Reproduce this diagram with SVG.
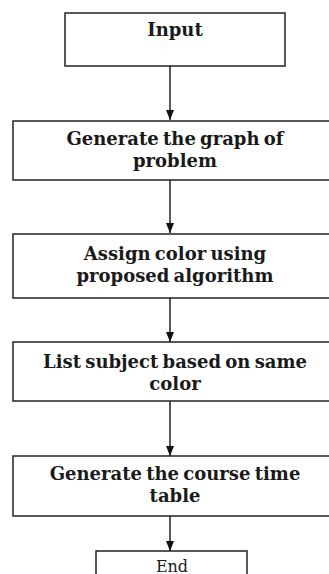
<svg xmlns="http://www.w3.org/2000/svg" width="329" height="574" viewBox="0 0 329 574">
<defs>
<style>
.box{fill:#fff;stroke:#222;stroke-width:1.5}
.t{font-family:"DejaVu Serif","Liberation Serif",serif;font-weight:bold;font-size:18px;fill:#1a1a1a;text-anchor:middle;word-spacing:-2px}
.r{font-family:"DejaVu Serif","Liberation Serif",serif;font-size:16px;fill:#1a1a1a;text-anchor:middle}
.c{stroke:#222;stroke-width:1.5;fill:none;marker-end:url(#ah)}
</style>
<marker id="ah" viewBox="0 0 10 8" refX="10" refY="4" markerWidth="10" markerHeight="8" markerUnits="userSpaceOnUse" orient="auto">
<path d="M0,0 L10,4 L0,8 Z" fill="#111"/>
</marker>
</defs>
<rect width="329" height="574" fill="#fff"/>
<g id="connectors">
<line class="c" x1="170" y1="66" x2="170" y2="120"/>
<line class="c" x1="170" y1="180" x2="170" y2="233"/>
<line class="c" x1="170" y1="298" x2="170" y2="342"/>
<line class="c" x1="170" y1="401" x2="170" y2="456"/>
<line class="c" x1="170" y1="516" x2="170" y2="551"/>
</g>
<g id="input">
<rect class="box" x="65" y="13" width="220" height="53"/>
<text class="t" x="175" y="36">Input</text>
</g>
<g id="graph">
<rect class="box" x="13" y="121" width="330" height="59"/>
<text class="t" x="175" y="145">Generate the graph of</text>
<text class="t" x="175" y="167">problem</text>
</g>
<g id="assign">
<rect class="box" x="13" y="234" width="330" height="64"/>
<text class="t" x="175" y="260">Assign color using</text>
<text class="t" x="175" y="282">proposed algorithm</text>
</g>
<g id="list">
<rect class="box" x="13" y="342" width="330" height="59"/>
<text class="t" x="175" y="368">List subject based on same</text>
<text class="t" x="175" y="390">color</text>
</g>
<g id="timetable">
<rect class="box" x="13" y="456" width="330" height="60"/>
<text class="t" x="175" y="480">Generate the course time</text>
<text class="t" x="175" y="502">table</text>
</g>
<g id="end">
<rect class="box" x="96" y="551" width="151" height="40"/>
<text class="r" x="172" y="572">End</text>
</g>
</svg>
